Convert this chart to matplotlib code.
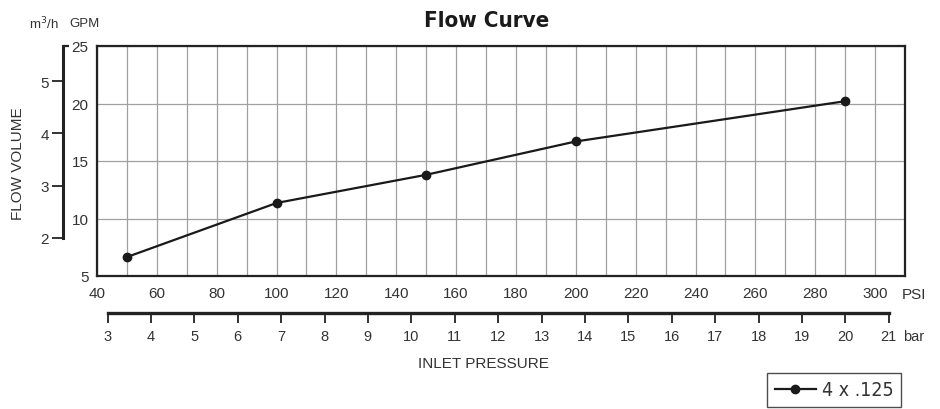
import numpy as np
import matplotlib
matplotlib.use('Agg')
import matplotlib.pyplot as plt
from matplotlib.lines import Line2D
from matplotlib.ticker import MultipleLocator, FixedLocator

# data
psi = [50, 100, 150, 200, 290]
gpm = [6.65, 11.35, 13.8, 16.7, 20.2]
series_name = '4 x .125'

psi_ticks = [40, 60, 80, 100, 120, 140, 160, 180, 200, 220, 240, 260, 280, 300]
gpm_ticks = [5, 10, 15, 20, 25]
m3h_ticks = [2, 3, 4, 5]
bar_ticks = list(range(3, 22))

PSI_PER_BAR = 14.5038

plt.rcParams['font.family'] = ['Liberation Sans', 'DejaVu Sans']
narrow = ['DejaVu Sans']
txt = '#333333'

fig = plt.figure(figsize=(9.4, 4.1), dpi=100)
W, H = 940.0, 410.0
left, right, top, bottom = 97, 905, 47, 277
pos = [left / W, 1 - bottom / H, (right - left) / W, (bottom - top) / H]

ax = fig.add_axes(pos)
ax.plot(psi, gpm, color='#1a1a1a', lw=1.6, marker='o', ms=6, zorder=3)
ax.set_xlim(40, 310)
ax.set_ylim(5, 25)
ax.xaxis.set_major_locator(FixedLocator(psi_ticks))
ax.xaxis.set_minor_locator(MultipleLocator(10))
ax.yaxis.set_major_locator(FixedLocator(gpm_ticks))
ax.grid(which='both', axis='x', color='#a0a0a0', lw=0.9)
ax.grid(which='major', axis='y', color='#a0a0a0', lw=0.9)
ax.tick_params(which='both', length=0, labelsize=11, labelcolor=txt)
ax.tick_params(axis='x', pad=7)
ax.tick_params(axis='y', pad=6)
for s in ax.spines.values():
    s.set_linewidth(1.6)
    s.set_color('#222222')

# m3/h scale on the left
axm = fig.add_axes(pos)
axm.patch.set_visible(False)
axm.set_ylim(1.27, 5.67)
axm.set_xticks([])
for k in ['top', 'right', 'bottom']:
    axm.spines[k].set_visible(False)
axm.spines['left'].set_position(('outward', 24.5))
axm.spines['left'].set_bounds(2, 5.67)
axm.spines['left'].set_linewidth(2.2)
axm.spines['left'].set_color('#222222')
axm.yaxis.set_major_locator(FixedLocator(m3h_ticks))
axm.yaxis.set_minor_locator(FixedLocator([5.67]))
axm.tick_params(axis='y', which='major', length=8, width=1.3, color='#222222',
                labelsize=11, labelcolor=txt, pad=2)
axm.tick_params(axis='y', which='minor', direction='in', length=4, width=1.6,
                color='#222222')

# bar scale below
bar_y = 314
axb = fig.add_axes([left / W, 1 - bar_y / H, (right - left) / W, 0.0001])
axb.patch.set_visible(False)
axb.set_xlim(40 / PSI_PER_BAR, 310 / PSI_PER_BAR)
axb.set_yticks([])
for k in ['top', 'right', 'left']:
    axb.spines[k].set_visible(False)
axb.spines['bottom'].set_bounds(3, 21)
axb.spines['bottom'].set_linewidth(2.4)
axb.spines['bottom'].set_color('#222222')
axb.xaxis.set_major_locator(FixedLocator(bar_ticks))
axb.tick_params(axis='x', length=7.5, width=1.3, color='#222222',
                labelsize=10.5, labelcolor=txt, pad=4)

fig.text(487 / W, 1 - 21 / H, 'Flow Curve', ha='center', va='center',
         fontsize=16, fontweight='bold', fontstretch='condensed',
         color='#1a1a1a', family=narrow)
fig.text(44 / W, 1 - 24 / H, 'm$^3$/h', ha='center', va='center', fontsize=9.5, color=txt)
fig.text(85 / W, 1 - 24 / H, 'GPM', ha='center', va='center', fontsize=9.5, color=txt)
fig.text(18 / W, 1 - 164 / H, 'FLOW VOLUME', ha='center', va='center',
         rotation=90, fontsize=11, color=txt)
fig.text(902 / W, 1 - 295 / H, 'PSI', ha='left', va='center', fontsize=11, color=txt)
fig.text(903 / W, 1 - 337 / H, 'bar', ha='left', va='center', fontsize=10.5, color=txt)
fig.text(483 / W, 1 - 364 / H, 'INLET PRESSURE', ha='center', va='center',
         fontsize=11, color=txt)

handle = Line2D([], [], color='#1a1a1a', lw=1.6, marker='o', ms=6)
leg = fig.legend([handle], [series_name], loc='center',
                 bbox_to_anchor=(834 / W, 1 - 391 / H), frameon=True,
                 fancybox=False, handlelength=2.1, handletextpad=0.3,
                 borderpad=0.4,
                 prop={'family': narrow, 'size': 14, 'stretch': 'condensed'})
leg.get_frame().set_edgecolor('#222222')
leg.get_frame().set_linewidth(1.0)
for t in leg.get_texts():
    t.set_color(txt)

fig.savefig('out.png', dpi=100)
